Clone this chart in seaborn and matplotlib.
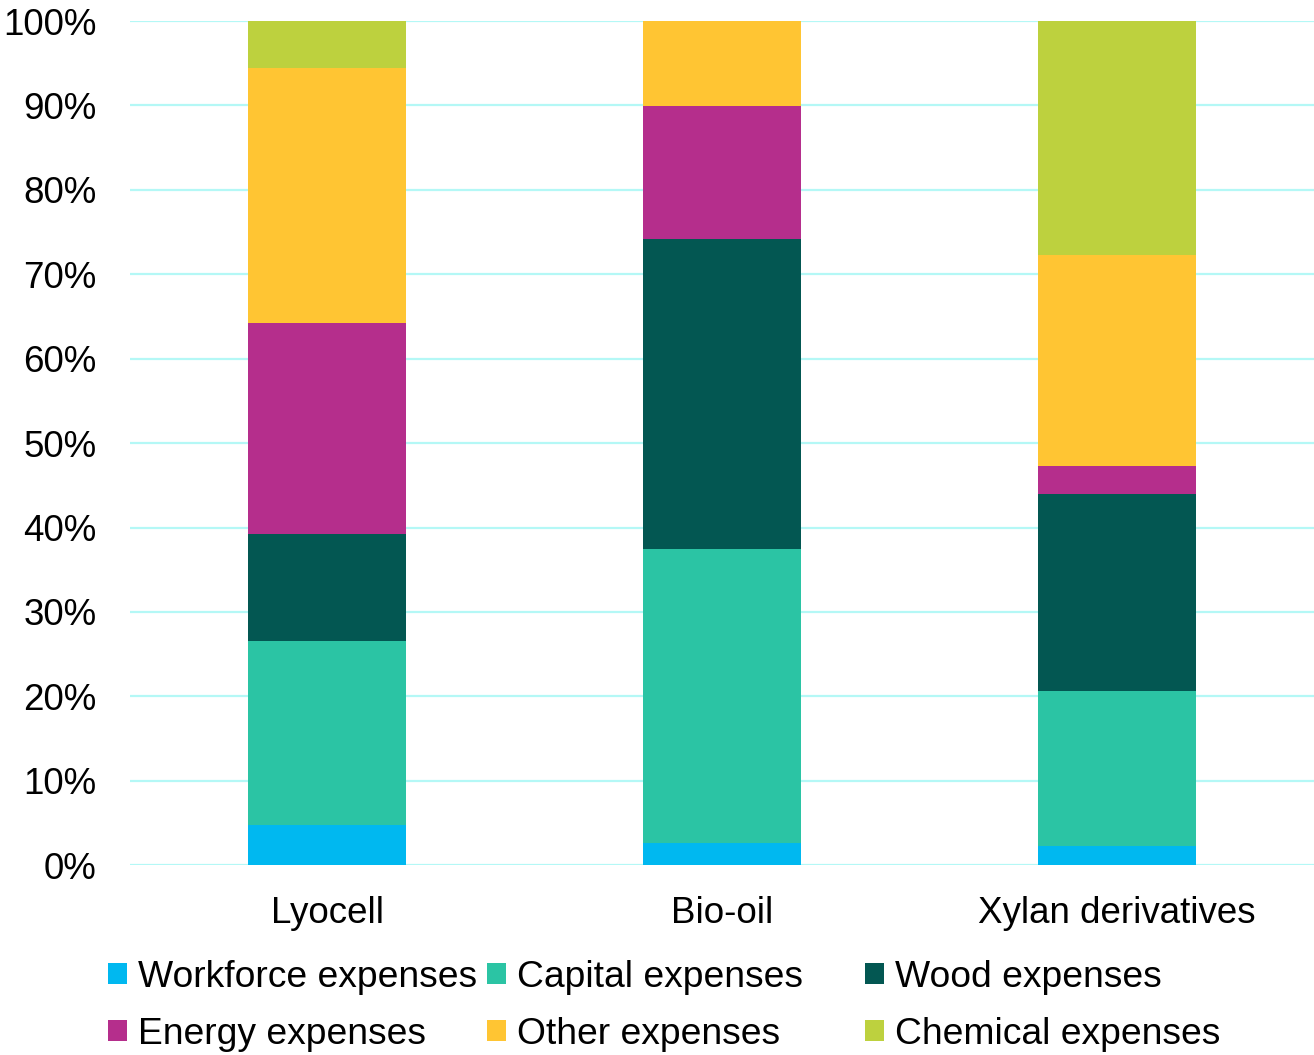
import matplotlib
matplotlib.use("Agg")
import matplotlib.pyplot as plt
import seaborn as sns
import pandas as pd
import numpy as np
from matplotlib.patches import Patch

categories = ["Lyocell", "Bio-oil", "Xylan derivatives"]
series_names = ["Workforce expenses", "Capital expenses", "Wood expenses",
                "Energy expenses", "Other expenses", "Chemical expenses"]
workforce = [4.7, 2.6, 2.25]
capital = [21.8, 34.8, 18.35]
wood = [12.7, 36.8, 23.4]
energy = [25.0, 15.7, 3.3]
other = [30.2, 10.1, 25.0]
chemical = [5.6, 0.0, 27.7]
colors = ["#00B8F0", "#2BC4A4", "#035752", "#B52E8C", "#FFC533", "#BDD13E"]
yticks = [0, 10, 20, 30, 40, 50, 60, 70, 80, 90, 100]
ytick_labels = [f"{v}%" for v in yticks]

sns.set_theme(style="white")
plt.rcParams['font.family'] = ['Liberation Sans', 'DejaVu Sans']
plt.rcParams['text.color'] = 'black'

series = [workforce, capital, wood, energy, other, chemical]
cum = np.cumsum(np.array(series), axis=0)

fig = plt.figure(figsize=(13.14, 10.55), dpi=100)
ax = fig.add_axes([0.099, 0.180, 0.901, 0.800])

for i in range(len(series) - 1, -1, -1):
    df = pd.DataFrame({"category": categories, "value": cum[i]})
    sns.barplot(data=df, x="category", y="value", color=colors[i],
                width=0.4, ax=ax, saturation=1, linewidth=0, zorder=3)

ax.set_ylim(0, 100)
ax.set_xlim(-0.5, 2.5)
ax.set_yticks(yticks)
ax.set_yticklabels(ytick_labels)
ax.yaxis.grid(True, color="#B4F8F6", linewidth=1.6, zorder=0)
ax.set_axisbelow(True)
for s in ax.spines.values():
    s.set_visible(False)
ax.tick_params(axis="y", length=0, pad=24, labelsize=26.5, labelcolor="black")
ax.tick_params(axis="x", length=0, pad=22, labelsize=26.5, labelcolor="black")
ax.set_xlabel("")
ax.set_ylabel("")

handles = [Patch(facecolor=c, edgecolor="none") for c in colors]
col_x = [108, 487, 865]
for k in range(3):
    idx = [k, k + 3]
    leg = fig.legend([handles[i] for i in idx], [series_names[i] for i in idx],
                     ncol=1, loc="upper left",
                     bbox_to_anchor=(col_x[k] / 1314, (1055 - 960) / 1055),
                     frameon=False, fontsize=26.8, handlelength=0.5,
                     handleheight=0.5, handletextpad=0.3, labelspacing=0.58,
                     borderpad=0, borderaxespad=0, labelcolor="black")

fig.savefig("out.png", dpi=100)
